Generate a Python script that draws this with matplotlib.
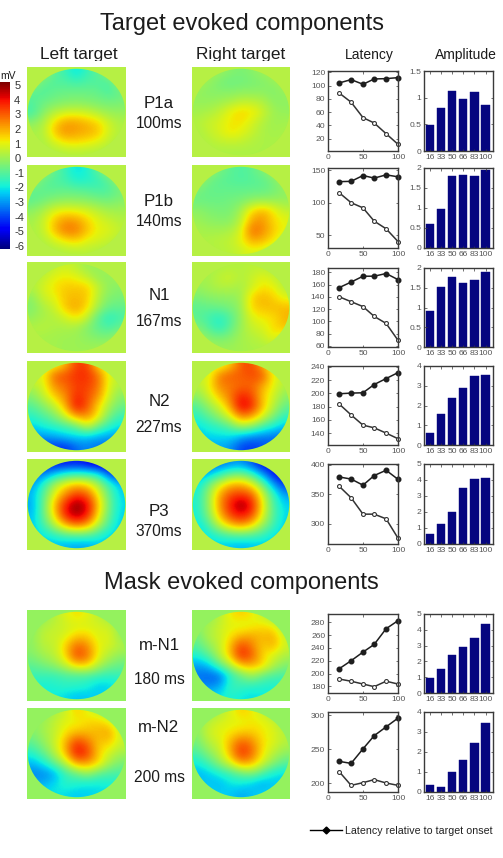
import matplotlib
matplotlib.use('Agg')
import matplotlib.pyplot as plt
import numpy as np
from matplotlib.cm import ScalarMappable
from matplotlib.colors import ListedColormap, Normalize
from matplotlib.lines import Line2D
from matplotlib.patches import Ellipse, Rectangle

plt.rcParams['font.family'] = ['Liberation Sans', 'DejaVu Sans']
plt.rcParams['axes.unicode_minus'] = False

W, H = 503, 858

# scalp voltages (uV) on a 9x9 grid, top row first
p1a_left = [[.2, .2, -.9, -1.4, -2.2, -1.4, -.9, .2, .2],
            [.2, -.8, -1.1, -1.1, -1.3, -1.1, -1.1, -1.2, .2],
            [-.9, -1.1, -.8, -.7, -.7, -.7, -.8, -1.2, -.7],
            [-1, -.7, -.5, -.4, -.3, -.4, -.5, -.6, -.5],
            [-1.3, -.3, .3, .7, .7, .6, .2, -.1, -.1],
            [-.3, .2, 1.4, 2.1, 2.1, 1.8, 1.4, .6, .2],
            [.2, .3, 1.7, 2.4, 2.1, 2, 1.7, .7, .3],
            [.2, .2, .8, 1.3, 1.4, 1.2, .9, .4, .2],
            [.2, .2, .2, .3, .3, .3, .2, .2, .2]]
p1a_right = [[.2, .2, 0, -.3, -.5, -.3, 0, .2, .2],
             [.2, -.1, -.5, -.7, -.6, -.5, -.4, -.1, .2],
             [-.1, -.3, -.3, -.3, -.2, -.2, -.2, -.4, -.1],
             [-.1, -.1, 0, .2, .5, .5, .3, -.2, -.2],
             [.1, .2, .5, 1.1, 1.5, 1.3, .7, 0, -.1],
             [.3, .6, .8, 1.2, 1.3, .8, .3, 0, .1],
             [.2, .5, .8, 1.3, 1, .6, .2, .1, .2],
             [.2, .3, .5, .5, .5, .3, .2, .2, .2],
             [.2, .2, .2, .2, .2, .2, .2, .2, .2]]
p1b_left = [[.2, .2, -.8, -1.4, -2.2, -1.8, -.8, .2, .2],
            [.2, -.8, -1.1, -1.3, -1.8, -1.7, -1.5, -.9, .2],
            [-.8, -.9, -.9, -.8, -.9, -1, -1.2, -1.1, -.6],
            [-.9, -.6, -.3, -.2, -.2, -.3, -.5, -.6, -.3],
            [-.2, .2, .9, 1.1, 1, .8, .4, .1, .1],
            [.1, .6, 1.7, 2.3, 2.2, 1.5, .9, .6, .3],
            [.2, .5, 1.8, 2.7, 2.6, 1.7, 1, .9, .5],
            [.2, .3, .7, 1.2, 1.5, .9, .8, .5, .2],
            [.2, .2, .2, .3, .3, .4, .2, .2, .2]]
p1b_right = [[.2, .2, -.5, -.9, -1.1, -.9, -.4, .2, .2],
             [.2, -.6, -.9, -1, -1.1, -1, -.9, -.5, .2],
             [-.5, -.8, -.8, -.8, -.8, -.8, -.8, -.6, -.2],
             [-.7, -.7, -.7, -.6, -.5, -.2, -.1, -.1, -.1],
             [-.2, -.4, -.5, -.5, .1, 1.4, 1.9, 1.2, .5],
             [0, -.2, -.3, -.3, .4, 2.1, 2.3, 1.4, 1],
             [.2, .1, .1, .2, .8, 2.9, 2.4, 1.6, 1],
             [.2, .3, .4, .5, 1, 2, 1.8, 1.2, .4],
             [.2, .2, .3, .4, .6, .9, .7, .3, .2]]
n1_left = [[.2, .2, .5, .7, .4, 0, -.1, .2, .2],
           [.2, .5, 1, 1.2, 1, .5, -.1, -.2, .2],
           [.3, .8, 1.3, 1.6, 1.6, 1.6, .5, -.2, -.3],
           [-.2, .7, 1, 1.7, 1.8, 1.6, .3, -.4, -.5],
           [-.4, .2, .6, 1.7, 2.1, 1.4, 0, -.8, -.8],
           [-.1, .2, .3, .7, 1.3, .5, -1, -1.7, -1.2],
           [.3, .4, .2, .2, .1, -.4, -.9, -1.2, -.7],
           [.2, .1, .1, 0, 0, -.2, -.4, -.4, .2],
           [.2, .2, .1, 0, 0, 0, .1, .2, .2]]
n1_right = [[.2, .2, .2, .3, .3, .4, .4, .2, .2],
            [.2, .1, .5, .7, .3, .6, 1, .6, .2],
            [-.1, .1, .3, .3, .1, .7, 1.3, 1.1, .3],
            [-.5, -.3, -.2, -.2, 0, 1.5, 1.9, 1.5, .9],
            [-.9, -.8, -.7, -.5, -.1, 1.5, 1.7, 1.8, 1.8],
            [-.9, -1.3, -1.7, -1.1, -.1, .9, 1.2, 1.3, 1.9],
            [-.4, -1, -1.7, -.9, 0, .6, .8, 1.4, 1.7],
            [.2, -.3, -.5, -.3, .1, .3, .5, 1.1, .4],
            [.2, .2, 0, 0, .1, .2, .2, .2, .2]]
n2_left = [[.8, .8, .8, 1.8, 3.4, 3.4, 1.2, .6, .6],
           [.9, .9, 3, 3.2, 3.6, 3.6, 2.8, .8, .6],
           [.2, .9, 2.4, 2.8, 3.4, 3.4, 2.7, .8, .2],
           [-.3, .5, 1.6, 2.4, 3.7, 3.2, 2.3, .6, -.3],
           [-1, -.3, .5, 1.9, 4.2, 3.1, 1.4, .1, -.7],
           [-1.6, -1.1, -.5, .8, 2.2, 2.4, 1.2, -.6, -1.4],
           [-2.3, -1.9, -1.6, -1.3, -.8, .8, -.7, -1.6, -2.2],
           [-3, -2.9, -2.8, -2.4, -2.3, -2.5, -2.7, -2.9, -3],
           [-4.2, -4.2, -4.2, -4.3, -3.5, -3.2, -3.5, -3.5, -3.5]]
n2_right = [[.7, .7, .7, 1.5, 3, 3.4, 1.8, .6, .6],
            [.7, .7, 2.6, 3, 3, 3.2, 3.2, 1, .6],
            [.3, 1, 2.5, 2.6, 2.8, 2.9, 2, 1, .2],
            [-.2, .6, 1.7, 2.6, 3.8, 3.3, 1.6, .7, -.2],
            [-1, -.1, .7, 2.1, 4.4, 3.8, 1.7, .4, -.8],
            [-1.6, -.9, -.1, .9, 2.6, 2.2, .9, -.4, -1.5],
            [-2.2, -1.8, -1.5, -.9, .2, -.2, -1.2, -1.9, -2.5],
            [-2.4, -2.2, -2.2, -2.2, -2.8, -3.2, -3.4, -3.4, -3.6],
            [-2.8, -2.8, -2.8, -3, -4, -4.2, -3.8, -3.8, -3.8]]
p3_left = [[-4.5, -4.5, -4.5, -4.6, -4.4, -4.8, -5.3, -5.3, -5.3],
           [-3.5, -3.3, -2.4, -1.6, -1.4, -1.5, -1.9, -3.8, -4.5],
           [-3, -1.6, .2, 1.2, 1.8, 1.4, .2, -1.5, -2.6],
           [-2.6, -1, 1, 2.4, 3.4, 3, 1.1, -.9, -2.3],
           [-2.8, -.8, 1.8, 3.8, 5.2, 4.2, 1.7, -.7, -2.2],
           [-2.6, -.8, 1.5, 3.9, 4.9, 3.9, 1.3, -.9, -2.3],
           [-2.4, -1.3, .4, 2, 2.8, 2.2, .4, -1.3, -2.4],
           [-2.5, -2, -1.6, -1, -.9, -.9, -1.5, -2.2, -2.5],
           [-2.5, -2.5, -2.5, -2.7, -2.8, -2.8, -2.5, -2.5, -2.5]]
p3_right = [[-3.5, -3.5, -3.5, -3.2, -3, -3.8, -4.8, -4.8, -4.8],
            [-3, -2.6, -1.7, -.7, -.5, -1.3, -3, -4.6, -5],
            [-2.2, -.7, .8, 1.8, 2, 1.2, -.6, -3, -4.2],
            [-1.8, -.2, 2, 3.2, 3.4, 3, .8, -1.5, -3],
            [-1.8, -.2, 2.2, 3.8, 5.1, 3.9, 1.2, -1.2, -2.3],
            [-1.9, -.4, 1.8, 3.4, 4.1, 3.4, 1, -1.1, -2.2],
            [-2.2, -1.2, .6, 1.8, 2.4, 1.6, 0, -1.3, -2.4],
            [-2.4, -2, -1.5, -1, -.9, -1, -1.4, -2.1, -2.4],
            [-2.3, -2.3, -2.3, -2.5, -2.6, -2.5, -2.4, -2.4, -2.4]]
mn1_left = [[-.2, -.2, .3, .9, 1.4, 1, .5, -.2, -.2],
            [-.2, .2, .5, .7, .8, .8, .8, .6, -.2],
            [-.3, .6, .6, .8, 1.5, 1.5, .8, 1, -.2],
            [-.2, .4, .5, 1.5, 2.9, 2.4, 1, .8, .3],
            [-.4, .1, .4, 1.4, 3.4, 2.8, 1, .3, -.2],
            [-.9, -.6, -.2, .5, 1.5, 1.5, .3, -.5, -.8],
            [-1.4, -1.4, -1.5, -1.2, -1.2, -1.2, -1.4, -1.6, -1.4],
            [-1.8, -1.9, -1.7, -1.6, -1.6, -1.8, -2.4, -2.2, -2],
            [-2, -2, -2, -2.2, -2.5, -2.4, -2.3, -2.2, -2]]
mn1_right = [[-.2, -.2, .3, 1.2, 1.6, 1.2, .6, -.2, -.2],
             [-.2, .1, .6, 1, .8, 1, 1.3, 1, -.2],
             [-.6, .3, .6, 1.2, 1.8, 2, 1.8, 2, .5],
             [-1, -.2, .5, 1.7, 3.4, 2.5, 1.5, 2, .7],
             [-1.8, -1, .3, 1.7, 3.8, 3.1, 1.4, .8, .2],
             [-2.9, -2.6, -1, .2, 1.7, 1.9, 1.5, .3, -.4],
             [-3.4, -3.6, -3.7, -1.7, -.8, .1, -.8, -1.2, -1.2],
             [-3.2, -3.2, -2.9, -1.4, -1.4, -1.6, -1.7, -1.8, -1.8],
             [-2.2, -2.2, -2, -1.7, -2, -2.2, -2, -2, -2]]
mn2_left = [[-.2, -.2, .2, .6, 1.6, 1, .6, -.2, -.2],
            [-.2, 0, .5, 1, 1, 1.4, 1.6, 1.2, -.2],
            [-.4, .1, .5, 1.3, 1.8, 1.8, 1.8, 2.2, .6],
            [-.9, -.2, .6, 1.9, 3.6, 2.8, 1.6, 1.6, .6],
            [-1.7, -.8, .3, 1.8, 4.1, 3.5, 1.5, .7, .1],
            [-2.6, -2, -.8, .4, 2.2, 2.2, 1.5, .1, -.5],
            [-3.2, -3.2, -2.8, -1.4, -.8, 0, -.9, -1.2, -1.2],
            [-2.8, -2.7, -2.2, -1.6, -1.8, -2, -2, -1.8, -1.8],
            [-2, -2, -2, -2.2, -2.4, -2.3, -2.2, -2.2, -2.2]]
mn2_right = [[-.2, -.2, .2, .8, 1.6, 1.2, .6, -.2, -.2],
             [-.2, .4, .8, 1, .9, 1.2, 1.1, .8, -.2],
             [-.3, .7, 1, 1.2, 1.6, 1.6, 1.2, .9, .4],
             [-.6, .3, .7, 1.9, 3.1, 2.6, 1.3, .9, .3],
             [-1.2, -.3, .4, 1.9, 3.7, 2.9, 1.2, .4, -.2],
             [-2, -1.3, -.2, .8, 2.2, 1.9, .7, -.3, -1],
             [-2.6, -2.4, -1.9, -1.4, -.8, -.4, -1.2, -2, -2.2],
             [-2.5, -2.4, -2.6, -2.1, -2, -2.4, -2.8, -2.4, -2.4],
             [-2.3, -2.3, -2.3, -2.4, -2.8, -2.5, -2.2, -2.2, -2.2]]

# soa in ms
soa = [16, 33, 50, 66, 83, 100]
soa_labels = ['16', '33', '50', '66', '83', '100']

# latency relative to target onset / relative to mask onset, one pair per component
p1a_target = [104, 109, 102, 110, 110.5, 112]
p1a_mask = [88.8, 75, 51.7, 43.6, 27.5, 11.5]
p1b_target = [132.5, 133, 142, 138, 143, 140]
p1b_mask = [115.4, 100, 92, 71.5, 59.7, 40]
n1_target = [155, 164, 173.6, 173.6, 178, 168]
n1_mask = [140, 132, 124, 108, 96.5, 69]
n2_target = [199.5, 200.5, 201, 213.5, 222.5, 231.5]
n2_mask = [184, 167.5, 152, 148, 140, 131.5]
p3_target = [379.5, 376, 365.5, 382, 391, 375.5]
p3_mask = [363.6, 344, 316, 316, 308, 275]
mn1_target = [207.5, 220, 233.5, 245.5, 270, 282.6]
mn1_mask = [191.4, 188, 183.6, 179.5, 188, 183.6]
mn2_target = [232, 229, 250.5, 270, 283, 296]
mn2_mask = [216.8, 196.5, 200.5, 205, 200, 196.5]

p1a_amp = [.49, .81, 1.13, .98, 1.11, .87]
p1b_amp = [.6, .98, 1.8, 1.83, 1.81, 1.95]
n1_amp = [.9, 1.52, 1.77, 1.62, 1.69, 1.9]
n2_amp = [.62, 1.58, 2.38, 2.9, 3.48, 3.53]
p3_amp = [.62, 1.25, 2.03, 3.53, 4.07, 4.15]
mn1_amp = [.95, 1.55, 2.38, 2.9, 3.47, 4.38]
mn2_amp = [.35, .25, 1.0, 1.6, 2.47, 3.45]

names = ['P1a', 'P1b', 'N1', 'N2', 'P3', 'm-N1', 'm-N2']
times = ['100ms', '140ms', '167ms', '227ms', '370ms', '180 ms', '200 ms']
cbar_ticks = [5, 4, 3, 2, 1, 0, -1, -2, -3, -4, -5, -6]

# one entry per row of the figure: pixel box of the maps and of the small plots
map_y = [(67, 157), (165, 256), (262, 353), (361, 452), (459, 550), (610, 701), (708, 799)]
plot_y = [(71, 151), (168, 248), (268, 347), (366, 445), (464, 544), (614, 693), (712, 792)]
name_y = [103, 202, 296, 402, 512, 645, 727]
time_y = [123, 222, 322, 428, 532, 680, 777]
lefts = [p1a_left, p1b_left, n1_left, n2_left, p3_left, mn1_left, mn2_left]
rights = [p1a_right, p1b_right, n1_right, n2_right, p3_right, mn1_right, mn2_right]
backgrounds = ['#b6f044', '#b6f044', '#b6f044', '#b6f044', '#b6f044', '#94f25e', '#94f25e']
targets = [p1a_target, p1b_target, n1_target, n2_target, p3_target, mn1_target, mn2_target]
masks = [p1a_mask, p1b_mask, n1_mask, n2_mask, p3_mask, mn1_mask, mn2_mask]
amps = [p1a_amp, p1b_amp, n1_amp, n2_amp, p3_amp, mn1_amp, mn2_amp]
lat_lims = [(1.4, 122), (30, 153.6), (58, 187), (122, 241.5), (265, 401.7), (169.6, 293), (186.7, 305)]
lat_ticks = [[20, 40, 60, 80, 100, 120], [50, 100, 150], [60, 80, 100, 120, 140, 160, 180],
             [140, 160, 180, 200, 220, 240], [300, 350, 400],
             [180, 200, 220, 240, 260, 280], [200, 250, 300]]
amp_tops = [1.5, 2, 2, 4, 5, 5, 4]
amp_ticks = [[0, .5, 1, 1.5], [0, .5, 1, 1.5, 2], [0, .5, 1, 1.5, 2], [0, 1, 2, 3, 4],
             [0, 1, 2, 3, 4, 5], [0, 1, 2, 3, 4, 5], [0, 1, 2, 3, 4]]
amp_labels = [['0', '0.5', '1', '1.5'], ['0', '0.5', '1', '1.5', '2'], ['0', '0.5', '1', '1.5', '2'],
              ['0', '1', '2', '3', '4'], ['0', '1', '2', '3', '4', '5'], ['0', '1', '2', '3', '4', '5'],
              ['0', '1', '2', '3', '4']]

AXIS_COL = '#3a3a3a'
TICK_COL = '#555555'
norm = Normalize(-6.2, 5.2)
# jet, a touch less saturated
jet_rgb = plt.get_cmap('jet')(np.linspace(0, 1, 256))[:, :3] * [0.98, 0.95, 0.96]
cmap = ListedColormap(jet_rgb)


def px_axes(fig, x0, y0, x1, y1):
    return fig.add_axes([x0 / W, 1 - y1 / H, (x1 - x0) / W, (y1 - y0) / H])


def px_text(fig, x, y, s, size, color='#1c1c1c', ha='center'):
    fig.text(x / W, 1 - y / H, s, fontsize=size, color=color, ha=ha, va='center')


def scalp_map(fig, box_x, box_y, grid, background):
    ax = px_axes(fig, box_x[0], box_y[0], box_x[1], box_y[1])
    ax.set_facecolor(background)
    im = ax.imshow(np.array(grid), cmap=cmap, norm=norm, interpolation='bicubic',
                   extent=(0, 1, 0, 1), aspect='auto')
    head = Ellipse((0.5, 0.5), 0.985, 0.96, transform=ax.transAxes, facecolor='none', edgecolor='none')
    ax.add_patch(head)
    im.set_clip_path(head)
    ax.set_xticks([])
    ax.set_yticks([])
    for side in ax.spines.values():
        side.set_visible(False)


def style_small(ax):
    for side in ax.spines.values():
        side.set_color(AXIS_COL)
        side.set_linewidth(1.0)
    ax.tick_params(direction='in', length=1.8, width=0.5, top=True, right=True, color=AXIS_COL,
                   labelsize=6.1, labelcolor=TICK_COL, pad=2)


fig = plt.figure(figsize=(W / 100, H / 100), dpi=100)

px_text(fig, 242, 24, 'Target evoked components', 17)
px_text(fig, 241, 583, 'Mask evoked components', 17)
px_text(fig, 369, 55, 'Latency', 10)
px_text(fig, 466, 55, 'Amplitude', 10)
px_text(fig, 79, 54, 'Left target', 12.4)
px_text(fig, 241, 54, 'Right target', 12.4)

# the column headings' descenders are cut off just above the maps
fig.add_artist(Rectangle((0, 1 - 66 / H), 300 / W, 5 / H, transform=fig.transFigure,
                         facecolor='white', edgecolor='none', zorder=5))

for i in range(7):
    scalp_map(fig, (27, 126), map_y[i], lefts[i], backgrounds[i])
    scalp_map(fig, (192, 290), map_y[i], rights[i], backgrounds[i])
    px_text(fig, 159, name_y[i], names[i], 12.2)
    px_text(fig, 159, time_y[i], times[i], 11.2)

    # latency panel
    ax = px_axes(fig, 328, plot_y[i][0], 398, plot_y[i][1])
    ax.plot(soa, targets[i], '-o', color='#1e1e1e', lw=1.1, ms=3.3, clip_on=False)
    ax.plot(soa, masks[i], '-o', color='#333333', lw=1.1, ms=2.8, mfc='white', mew=0.8, clip_on=False)
    ax.set_xlim(0, 100)
    ax.set_ylim(lat_lims[i])
    ax.set_xticks([0, 50, 100])
    ax.set_yticks(lat_ticks[i])
    style_small(ax)

    # amplitude panel
    ax = px_axes(fig, 424, plot_y[i][0], 493, plot_y[i][1])
    ax.bar(range(1, 7), amps[i], width=0.75, color='#05057f', edgecolor='#05057f', linewidth=0.3)
    ax.set_xlim(0.48, 6.66)
    ax.set_ylim(0, amp_tops[i])
    ax.set_xticks(range(1, 7))
    ax.set_xticklabels(soa_labels)
    ax.set_yticks(amp_ticks[i])
    ax.set_yticklabels(amp_labels[i])
    style_small(ax)

# colour scale on the left edge
cax = px_axes(fig, 0, 82, 10, 249)
cbar = fig.colorbar(ScalarMappable(norm=norm, cmap=cmap), cax=cax, ticks=cbar_ticks)
cbar.outline.set_visible(False)
cbar.ax.tick_params(length=0, labelsize=8, labelcolor='#333333', pad=3)
px_text(fig, 0.5, 76, 'mV', 7.5, ha='left')

handle = Line2D([], [], color='black', lw=1.0, marker='D', ms=3.5)
fig.legend([handle], ['Latency relative to target onset'], loc='center left',
           bbox_to_anchor=(300 / W, 1 - 831 / H), frameon=False, fontsize=7.7, handlelength=3.0,
           handletextpad=0.35, labelcolor='#222222')

fig.savefig('out.png', dpi=100)
